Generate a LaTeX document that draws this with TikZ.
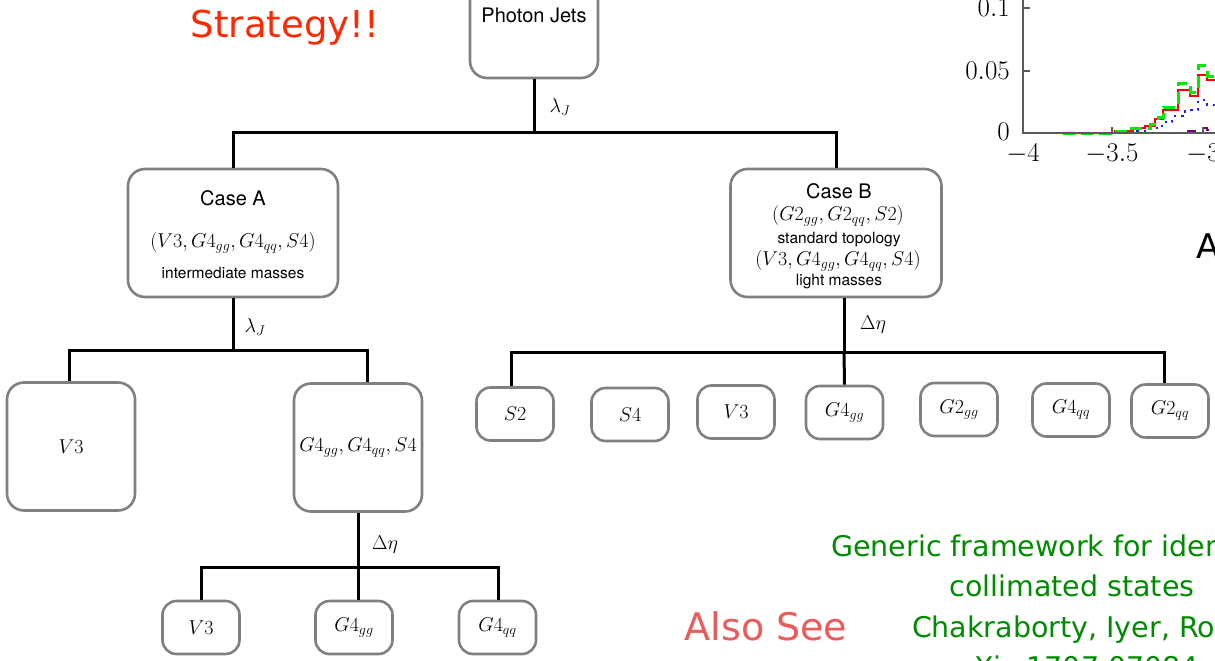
\RequirePackage{fix-cm}
\documentclass[tikz,border=0pt]{standalone}
\usepackage{fontspec}
\newfontfamily\helv{TeX Gyre Heros}
\newfontfamily\comic{DejaVu Sans}
\definecolor{boxgray}{RGB}{128,128,128}
\definecolor{stratred}{RGB}{255,40,0}
\definecolor{seered}{RGB}{236,90,90}
\definecolor{refgreen}{RGB}{0,140,0}
\definecolor{axisgray}{RGB}{90,90,90}
\definecolor{histred}{RGB}{255,0,0}
\definecolor{histgreen}{RGB}{0,235,0}
\definecolor{histblue}{RGB}{30,30,255}
\definecolor{histpurple}{RGB}{120,0,120}
\begin{document}
\begin{tikzpicture}[x=1pt,y=-1pt,
  boxst/.style={draw=boxgray, line width=2.6pt, rounded corners=17pt, inner sep=0pt},
  bigbox/.style={boxst, minimum width=128pt, minimum height=128pt, font=\fontsize{20}{24}\selectfont},
  casebox/.style={boxst, minimum width=210pt, minimum height=128pt},
  smallbox/.style={boxst, rounded corners=14pt, minimum width=77pt, minimum height=53pt, font=\fontsize{20}{24}\selectfont},
  conn/.style={line width=3pt},
  helvbig/.style={font=\helv\fontsize{20}{24}\selectfont, anchor=base, inner sep=0pt},
  helvsmall/.style={font=\helv\fontsize{15.5}{18}\selectfont, anchor=base, inner sep=0pt},
  mathtxt/.style={font=\fontsize{20}{24}\selectfont, anchor=base, inner sep=0pt},
  edgelbl/.style={font=\fontsize{20}{24}\selectfont, inner sep=0pt},
  comictxt/.style={font=\comic\fontsize{#1}{#1}\selectfont, anchor=base, inner sep=0pt},
  ticklbl/.style={font=\fontsize{27}{30}\selectfont, inner sep=0pt},
  hist/.style={line width=2.6pt},
]
\useasboundingbox (0,0) rectangle (1215,661);
\clip (0,0) rectangle (1215,661);

% ---------- plot (top right) ----------
\draw[histpurple, hist, dash pattern=on 9pt off 9pt] (1063,133) -- (1185,133) -- (1185,131) -- (1198,131) -- (1198,128) -- (1207,128) -- (1207,130) -- (1216,130);
\draw[histblue, hist, dash pattern=on 2.5pt off 5pt] (1063,133) -- (1120,133) -- (1120,131) -- (1150,131) -- (1150,128) -- (1162,128) -- (1162,122) -- (1172,122) -- (1172,116) -- (1185,116) -- (1185,110) -- (1198,110) -- (1198,100) -- (1207,100) -- (1207,105) -- (1216,105);
\draw[histred, hist] (1063,133) -- (1115,133) -- (1115,131) -- (1133,131) -- (1133,128) -- (1145,128) -- (1145,126) -- (1155,126) -- (1155,119) -- (1163,119) -- (1163,110) -- (1178,110) -- (1178,90) -- (1190,90) -- (1190,96) -- (1198,96) -- (1198,75) -- (1207,75) -- (1207,80) -- (1216,80);
\draw[histgreen, hist, line width=3pt, dash pattern=on 12pt off 6pt] (1063,133) -- (1110,133) -- (1110,131) -- (1128,131) -- (1128,128) -- (1150,128) -- (1150,124) -- (1158,124) -- (1158,117) -- (1163,117) -- (1163,107) -- (1178,107) -- (1178,83) -- (1190,83) -- (1190,92) -- (1198,92) -- (1198,66) -- (1207,66) -- (1207,76) -- (1216,76);
\draw[axisgray, line width=1.3pt] (1023,-2) -- (1023,133) -- (1216,133);
\draw[axisgray, line width=1.3pt] (1023,8) -- (1030,8) (1023,71) -- (1030,71) (1112,133) -- (1112,127) (1203,133) -- (1203,127);
\node[ticklbl, anchor=east] (y01) at (1010,8) {$0.1$};
\node[ticklbl, anchor=east] (y005) at (1010,71) {$0.05$};
\node[ticklbl, anchor=east] (y0) at (1010,132) {$0$};
\node[ticklbl, anchor=north] (xm4) at (1023,144) {$-4$};
\node[ticklbl, anchor=north] (xm35) at (1112,144) {$-3.5$};
\node[ticklbl, anchor=north] (xm3) at (1203,144) {$-3$};
\node[comictxt=34, anchor=base west] (lettA) at (1196,258) {A};

% ---------- titles ----------
\node[comictxt=37, text=stratred] (strat) at (285,38) {Strategy!!};
\node[comictxt=38, text=seered] (also) at (766,640) {Also See};
\node[comictxt=28.5, text=refgreen] (g1) at (1072,556) {Generic framework for identifying};
\node[comictxt=28.5, text=refgreen] (g2) at (1072,596) {collimated states};
\node[comictxt=28.5, text=refgreen] (g3) at (1072,637) {Chakraborty, Iyer, Roy};
\node[comictxt=28.5, text=refgreen] (g4) at (1072,677) {arXiv:1707.07084};

% ---------- tree ----------
\node[bigbox] (pj) at (534,14) {};
\node[helvbig] (pjt) at (534,23) {Photon Jets};

\node[casebox] (caseA) at (233,233) {};
\node[helvbig] (caseAt) at (233,205) {Case A};
\node[mathtxt] (caseAm) at (233,247) {$(V3, G4_{gg}, G4_{qq}, S4)$};
\node[helvsmall] (caseAs) at (233,278) {intermediate masses};

\node[casebox, minimum width=211pt] (caseB) at (836,233) {};
\node[helvbig] (caseBt) at (839,198) {Case B};
\node[mathtxt] (caseBm1) at (838,220) {$(G2_{gg}, G2_{qq}, S2)$};
\node[helvsmall] (caseBs1) at (839,243) {standard topology};
\node[mathtxt] (caseBm2) at (838,265) {$(V3, G4_{gg}, G4_{qq}, S4)$};
\node[helvsmall] (caseBs2) at (839,285) {light masses};

\node[bigbox] (v3a) at (71,446.5) {$V3$};
\node[bigbox] (g4a) at (358,447.5) {$G4_{gg}, G4_{qq}, S4$};

\node[smallbox] (lv3) at (201,627.5) {$V3$};
\node[smallbox] (lg4gg) at (354,627.5) {$G4_{gg}$};
\node[smallbox] (lg4qq) at (497.5,627.5) {$G4_{qq}$};

\node[smallbox] (bS2) at (515,414) {$S2$};
\node[smallbox] (bS4) at (630,414.5) {$S4$};
\node[smallbox] (bV3) at (736,412) {$V3$};
\node[smallbox] (bG4gg) at (844.5,412.5) {$G4_{gg}$};
\node[smallbox] (bG2gg) at (959,409.5) {$G2_{gg}$};
\node[smallbox] (bG4qq) at (1071,410) {$G4_{qq}$};
\node[smallbox] (bG2qq) at (1170,411) {$G2_{qq}$};

% connectors
\coordinate (jT) at (534,132);
\draw[conn] (pj.south) -- (jT);
\draw[conn] (caseA.north) |- (jT) -| (caseB.north);

\coordinate (jA) at (233,350);
\draw[conn] (caseA.south) -- (jA);
\draw[conn] ([xshift=-2pt]v3a.north) |- (jA) -| ([xshift=9pt]g4a.north);

\coordinate (jA2) at (358,567);
\draw[conn] (g4a.south) -- (jA2);
\draw[conn] (lv3.north) |- (jA2) -| ([xshift=0.5pt]lg4qq.north);
\draw[conn] (jA2) -- (jA2 |- lg4gg.north);

\coordinate (jB) at (844,352);
\draw[conn] ([xshift=8pt]caseB.south) -- (jB);
\draw[conn] ([xshift=-4pt]bS2.north) |- (jB) -| ([xshift=-6pt]bG2qq.north);
\draw[conn] (jB) -- (bG4gg.north);

% edge labels
\node[edgelbl] (l1) at (560,107) {$\lambda_J$};
\node[edgelbl] (l2) at (255,327) {$\lambda_J$};
\node[edgelbl] (l3) at (873,325) {$\Delta\eta$};
\node[edgelbl] (l4) at (385,545) {$\Delta\eta$};
\end{tikzpicture}
\end{document}
